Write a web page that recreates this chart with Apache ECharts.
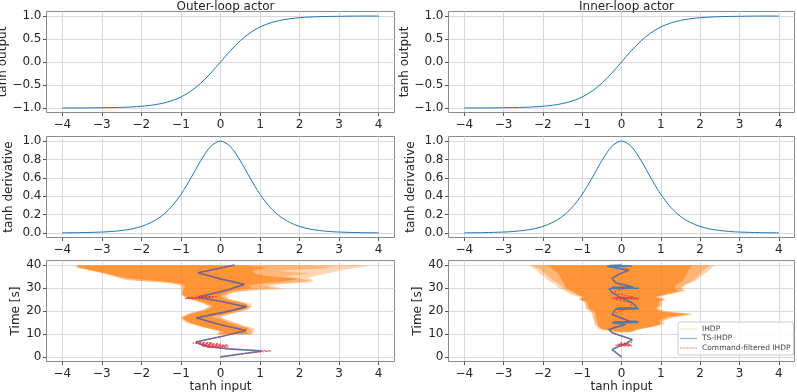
<!DOCTYPE html>
<html><head><meta charset="utf-8">
<script src="https://cdn.jsdelivr.net/npm/echarts@6/dist/echarts.min.js"></script>
<style>html,body{margin:0;padding:0;background:#fff}#c{width:797px;height:392px}</style>
</head><body><div id="c"></div>
<script>
// ---------------- data ----------------
const tanhX     = [-4,-3.5,-3,-2.75,-2.5,-2.25,-2,-1.75,-1.5,-1.25,-1,-0.75,-0.5,-0.25,0,0.25,0.5,0.75,1,1.25,1.5,1.75,2,2.25,2.5,2.75,3,3.5,4];
const tanhOut   = [-1.0,-1.0,-0.995,-0.992,-0.987,-0.978,-0.964,-0.941,-0.905,-0.848,-0.762,-0.635,-0.462,-0.245,0,0.245,0.462,0.635,0.762,0.848,0.905,0.941,0.964,0.978,0.987,0.992,0.995,1.0,1.0];
const tanhDeriv = [0.001,0.004,0.010,0.016,0.027,0.043,0.071,0.115,0.181,0.281,0.420,0.597,0.786,0.940,1.0,0.940,0.786,0.597,0.420,0.281,0.181,0.115,0.071,0.043,0.027,0.016,0.010,0.004,0.001];

const xTicks     = [-4,-3,-2,-1,0,1,2,3,4];
const outTicks   = [-1,-0.5,0,0.5,1];
const derivTicks = [0,0.2,0.4,0.6,0.8,1];
const timeTicks  = [0,10,20,30,40];

const titles = ['Outer-loop actor','Inner-loop actor'];

// Outer-loop: TS-IHDP trajectory
const outerTsT = [0,0.6,1.5,2.6,3.5,4.5,5.5,6.5,9,11.5,14,15,17,19.5,21.8,24,26,29,31.6,34,36.7,38.5,40];
const outerTsX = [0,0.05,0.6,1.05,0.2,-0.3,-0.5,-0.62,0.05,0.65,0.0,-0.2,-0.61,0.1,0.66,0.05,-0.55,0.15,0.6,0.0,-0.57,-0.05,0.35];
// Outer-loop: command-filtered IHDP
const outerCfT = [0,0.6,1.5,2.6,3.5,4.2,4.3,4.6,4.7,5.0,5.1,5.5,5.6,6.0,6.1,6.5,9,11.5,14,17,19.5,21.8,24,25.3,25.4,25.8,25.9,26.3,26.4,29,31.6,34,36.7,38.5,40];
const outerCfX = [0,0.05,0.65,1.28,0.2,-0.35,0.2,-0.45,0.15,-0.5,0.2,-0.55,0.0,-0.7,-0.2,-0.62,0.05,0.65,0.0,-0.61,0.1,0.66,0.05,-0.4,-0.9,-0.2,-0.85,-0.1,-0.6,0.15,0.6,0.0,-0.57,-0.05,0.35];
// Outer-loop: IHDP spread (light, medium, dense)
const outerLightT  = [9.5,11,12.5,13.5,15,16.5,17.5,19,20.5,22,23,24.5,25.5,27,28.5,29.5,30.5,31.5,32.5,33.5,34.5,36,37.5,39,39.6,40];
const outerLightLo = [-0.1,-0.05,-0.35,-0.6,-0.9,-1.0,-1.0,-0.8,-0.45,-0.3,-0.4,-0.65,-0.85,-1.0,-1.0,-1.0,-1.0,-1.05,-1.6,-2.4,-2.6,-2.9,-3.3,-3.65,-3.7,-3.5];
const outerLightHi = [0.8,0.85,0.85,0.6,0.35,0.1,0.0,0.35,0.7,0.8,0.78,0.45,0.2,0.15,0.4,1.65,1.2,1.4,2.3,2.35,2.2,2.6,3.0,3.5,3.77,3.3];
const outerMidT    = [10,11.5,13,14.5,16,17.5,19,20.5,22,23.5,25,26.5,28,29.2,30.2,31.3,32.4,33.2,34.2,35.2,36.3,37.4,38.4,39.3,39.8];
const outerMidLo   = [-0.05,0.0,-0.45,-0.7,-0.9,-0.95,-0.75,-0.4,-0.25,-0.45,-0.75,-0.95,-0.98,-0.98,-0.95,-1.0,-1.3,-2.1,-2.5,-2.7,-2.9,-3.2,-3.4,-3.6,-3.65];
const outerMidHi   = [0.78,0.8,0.7,0.45,0.15,-0.05,0.3,0.65,0.78,0.6,0.2,0.1,0.3,0.8,1.55,1.0,1.9,2.3,2.0,1.6,2.3,1.4,2.5,2.9,1.9];
const outerDenseT  = [10,11,12.5,13.5,15,16.5,17.5,19,20.5,22,23,24.5,25.5,27,28.5,30,31,32,33,34,34.8,36,37.5,39,39.8];
const outerDenseLo = [-0.05,0.1,-0.3,-0.5,-0.8,-0.95,-0.95,-0.7,-0.35,-0.2,-0.3,-0.55,-0.8,-0.95,-0.95,-0.9,-0.9,-1.0,-1.5,-2.2,-2.5,-2.8,-3.2,-3.6,-3.65];
const outerDenseHi = [0.7,0.65,0.7,0.45,0.2,-0.05,-0.25,0.2,0.55,0.7,0.65,0.3,0.05,0.0,0.25,0.8,0.7,1.0,1.6,2.0,1.4,0.9,0.8,1.2,0.6];

// Inner-loop: TS-IHDP trajectory
const innerTsT = [0,0.6,3.2,5.7,7.6,10.5,12,14.1,14.9,15.0,15.3,15.4,15.6,18.5,20.8,20.9,21.3,21.4,23.6,25.7,28,29.8,29.9,30.3,30.4,32.3,34.2,36,37.7,39.5,39.6,39.8,40];
const innerTsX = [0,0,-0.24,0.1,0.27,-0.24,-0.32,0.1,-0.24,0.44,-0.2,0.4,0.19,-0.24,-0.15,0.44,-0.1,0.4,0.27,0.0,-0.24,-0.32,0.44,-0.25,0.3,-0.15,-0.24,-0.07,0.19,-0.37,0.27,-0.3,0.0];
// Inner-loop: command-filtered IHDP
const innerCfT = [0,0.6,3.2,4.7,4.8,5.1,5.2,5.5,5.6,6.0,6.1,7.6,10.5,12,14.1,15.6,18.5,21.4,23.6,25.2,25.3,25.6,25.7,26.0,26.1,28,30.1,32.3,34.2,36,37.7,40];
const innerCfX = [0,0,-0.24,-0.1,0.27,-0.15,0.25,-0.1,0.2,-0.05,0.25,0.27,-0.24,-0.32,0.1,0.19,-0.24,0.19,0.27,-0.2,0.45,-0.25,0.4,-0.15,0.3,-0.24,0.1,-0.15,-0.24,-0.07,0.19,0.0];
// Inner-loop: IHDP spread (light, medium, dense)
const innerLightT  = [10.5,12,13.5,14.5,16,17.5,18.8,19.8,21,22.5,24,25,26,27,28.7,30,31.5,33,34.5,36,37.5,39,39.8,40];
const innerLightLo = [-0.2,-0.58,-0.66,-0.7,-0.7,-0.75,-0.75,-0.79,-0.92,-0.92,-0.96,-1.09,-1.04,-1.26,-1.42,-1.6,-1.68,-1.85,-1.93,-2.06,-2.15,-2.27,-2.32,-2.3];
const innerLightHi = [0.25,0.44,0.95,1.12,1.03,1.37,1.84,1.12,0.95,1.03,1.03,1.12,0.95,1.12,1.63,1.54,1.63,1.88,1.97,2.1,2.22,2.3,2.35,2.3];
const innerMidT    = [11,12.5,14,15.5,17,18.3,19.5,21,22.5,24,25.2,26.2,27.5,29,30.5,32,33.5,35,36.5,38,39.3,39.8];
const innerMidLo   = [-0.15,-0.55,-0.62,-0.68,-0.7,-0.7,-0.75,-0.88,-0.9,-0.92,-1.07,-1.0,-1.2,-1.4,-1.5,-1.6,-1.75,-1.85,-1.95,-2.05,-2.2,-2.25];
const innerMidHi   = [0.22,0.6,0.98,1.05,1.25,1.8,1.15,0.9,1.0,1.0,1.1,0.9,1.3,1.58,1.5,1.7,1.85,1.95,2.0,2.1,2.2,2.25];
const innerDenseT  = [11,12,13.5,14.5,16,17.5,18.8,19.8,21,22.5,24,25,26,27,28.7,30,31.5,33,34.5,36,37.5,39,39.8];
const innerDenseLo = [-0.1,-0.5,-0.6,-0.6,-0.62,-0.65,-0.65,-0.7,-0.82,-0.85,-0.88,-1.05,-0.95,-1.1,-1.25,-1.4,-1.45,-1.5,-1.55,-1.6,-1.7,-1.8,-1.9];
const innerDenseHi = [0.2,0.4,0.85,1.0,0.95,1.2,1.75,1.0,0.85,0.95,0.95,1.05,0.85,1.0,1.45,1.35,1.4,1.55,1.6,1.65,1.7,1.75,1.8];

// ---------------- layout / style ----------------
const FONT = 'DejaVu Sans';
const colLeft = [46.5, 448.5];
const colWidth = [348, 346];
const rowTop = [11.5, 136.5, 260.5];
const rowH = 101;
const SPINE = '#8a8a8a';
const GRIDC = '#d9d9d9';
const TXT = '#262626';
const BLUE = '#1f77b4';

const minus = s => s.replace('-', '\u2212');
const fmtInt = v => minus(String(Math.round(v)));
const fmt1 = v => minus((Math.abs(v) < 1e-9 ? 0 : v).toFixed(1));

const grids = [], xAxes = [], yAxes = [], series = [];
const rowCfg = [
  {min:-1.0993, max:1.0993, ticks:outTicks, fmt:fmt1, name:'tanh output', gap:32},
  {min:-0.0493, max:1.0493, ticks:derivTicks, fmt:fmt1, name:'tanh derivative', gap:32},
  {min:-2, max:42, ticks:timeTicks, fmt:fmtInt, name:'Time [s]', gap:21}
];

for (let c = 0; c < 2; c++) {
  for (let r = 0; r < 3; r++) {
    const i = c * 3 + r;
    grids.push({left: colLeft[c], top: rowTop[r], width: colWidth[c], height: rowH,
      show: true, borderColor: SPINE, borderWidth: 1, backgroundColor: 'transparent',
      containLabel: false, outerBoundsMode: 'none'});
    xAxes.push({type:'value', gridIndex:i, min:-4.4, max:4.4, position:'bottom',
      axisLine:{show:false, onZero:false},
      axisTick:{show:true, customValues:xTicks, length:3.5, lineStyle:{color:'#555'}},
      axisLabel:{customValues:xTicks, formatter:fmtInt, fontSize:12, color:TXT, fontFamily:FONT, margin:6},
      splitLine:{show:true, lineStyle:{color:GRIDC, width:1}},
      name: r === 2 ? 'tanh input' : '', nameLocation:'middle', nameGap:15,
      nameTextStyle:{fontSize:12, color:TXT, fontFamily:FONT}});
    const rc = rowCfg[r];
    yAxes.push({type:'value', gridIndex:i, min:rc.min, max:rc.max, position:'left',
      axisLine:{show:false, onZero:false},
      axisTick:{show:true, customValues:rc.ticks, length:3.5, lineStyle:{color:'#555'}},
      axisLabel:{customValues:rc.ticks, formatter:rc.fmt, fontSize:12, color:TXT, fontFamily:FONT, margin:5},
      splitLine:{show:true, lineStyle:{color:GRIDC, width:1}},
      name: rc.name, nameLocation:'middle', nameGap:rc.gap, nameRotate:90,
      nameTextStyle:{fontSize:12, color:TXT, fontFamily:FONT}});
  }
}

function curve(i, ys) {
  return {type:'line', xAxisIndex:i, yAxisIndex:i, data: tanhX.map((x, k) => [x, ys[k]]),
    symbol:'none', smooth:0.3, lineStyle:{color:BLUE, width:1}, silent:true, z:3};
}
function envelope(i, T, LO, HI, color) {
  return {type:'custom', name:'IHDP', xAxisIndex:i, yAxisIndex:i, silent:true, z:1,
    data: T.map((t, k) => [LO[k], t, HI[k]]),
    encode:{x:[0,2], y:1},
    itemStyle:{color: color},
    renderItem(params, api) {
      if (params.dataIndex !== 0) return null;
      const pts = [];
      for (let k = 0; k < T.length; k++) pts.push(api.coord([LO[k], T[k]]));
      for (let k = T.length - 1; k >= 0; k--) pts.push(api.coord([HI[k], T[k]]));
      return {type:'polygon', shape:{points:pts}, style:{fill:color}};
    }};
}
function traj(i, name, T, X, style) {
  return Object.assign({type:'line', name, xAxisIndex:i, yAxisIndex:i, silent:true,
    data: T.map((t, k) => [X[k], t]), symbol:'none'}, style);
}
const tsStyle = {lineStyle:{color:'#3b78b8', width:1.6, opacity:0.9}, z:4};
const cfStyle = {lineStyle:{color:'#e03040', width:1, type:[2,1.5], opacity:0.85}, z:5};
const LIGHT = 'rgba(255,127,14,0.32)';
const MID = 'rgba(255,127,14,0.35)';
const DENSE = 'rgba(255,127,14,0.6)';

// outer column
series.push(curve(0, tanhOut), curve(1, tanhDeriv));
series.push(envelope(2, outerLightT, outerLightLo, outerLightHi, LIGHT));
series.push(envelope(2, outerMidT, outerMidLo, outerMidHi, MID));
series.push(envelope(2, outerDenseT, outerDenseLo, outerDenseHi, DENSE));
series.push(traj(2, 'TS-IHDP', outerTsT, outerTsX, tsStyle));
series.push(traj(2, 'Command-filtered IHDP', outerCfT, outerCfX, cfStyle));
// inner column
series.push(curve(3, tanhOut), curve(4, tanhDeriv));
series.push(envelope(5, innerLightT, innerLightLo, innerLightHi, LIGHT));
series.push(envelope(5, innerMidT, innerMidLo, innerMidHi, MID));
series.push(envelope(5, innerDenseT, innerDenseLo, innerDenseHi, DENSE));
series.push(traj(5, 'TS-IHDP', innerTsT, innerTsX, tsStyle));
series.push(traj(5, 'Command-filtered IHDP', innerCfT, innerCfX, cfStyle));

let dots = '';
for (let k = 0; k < 8; k++) dots += 'M' + (k * 2.6).toFixed(1) + ',0h1.6v1.4h-1.6z';

const option = {
  animation:false,
  backgroundColor:'#fff',
  textStyle:{fontFamily:FONT},
  title: titles.map((t, c) => ({text:t, left: colLeft[c] + colWidth[c] / 2, top:-4, textAlign:'center',
    textStyle:{fontSize:12, fontWeight:'normal', color:TXT, fontFamily:FONT}})),
  grid: grids, xAxis: xAxes, yAxis: yAxes, series,
  legend: {
    left:678, top:322, orient:'vertical', selectedMode:false,
    itemWidth:17, itemHeight:9, itemGap:1.5, padding:[3,3,3,2],
    backgroundColor:'rgba(255,255,255,0.85)', borderColor:'#cccccc', borderWidth:1, borderRadius:2,
    textStyle:{fontSize:7.5, color:'#444', fontFamily:FONT},
    itemStyle:{borderWidth:0},
    data:[
      {name:'IHDP', icon:'path://M0,0h20v1.4h-20z', itemStyle:{color:'#fde2c6', borderWidth:0}},
      {name:'TS-IHDP', icon:'path://M0,0h20v1.6h-20z', itemStyle:{color:'#8fbbe0', borderWidth:0}},
      {name:'Command-filtered IHDP', icon:'path://' + dots, itemStyle:{color:'#e7707c', borderWidth:0}}
    ]
  }
};
const chart = echarts.init(document.getElementById('c'), null, {renderer:'canvas'});
chart.setOption(option);
</script>
</body></html>
